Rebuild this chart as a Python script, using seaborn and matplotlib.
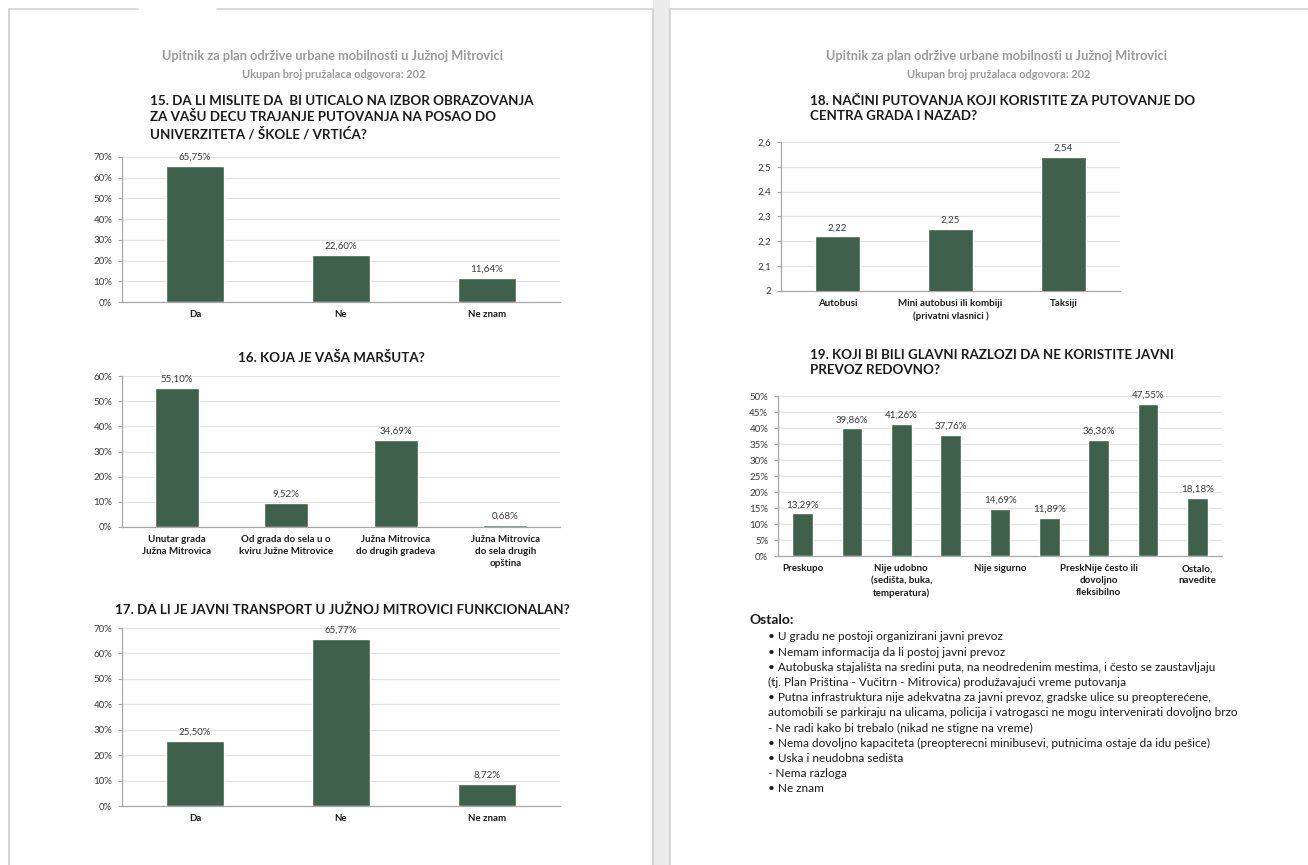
import matplotlib
matplotlib.use("Agg")
import matplotlib.pyplot as plt
from matplotlib.patches import Rectangle
from matplotlib.ticker import FixedLocator, FuncFormatter
import seaborn as sns
import pandas as pd
import numpy as np

sns.set_theme(style="white")
plt.rcParams["font.family"] = ["Lato", "DejaVu Sans"]

# ---- survey data -------------------------------------------------------
header_title = "Upitnik za plan održive urbane mobilnosti u Južnoj Mitrovici"
header_sub = "Ukupan broj pružalaca odgovora: 202"

q15_title = ("15. DA LI MISLITE DA  BI UTICALO NA IZBOR OBRAZOVANJA\n"
             "ZA VAŠU DECU TRAJANJE PUTOVANJA NA POSAO DO\n"
             "UNIVERZITETA / ŠKOLE / VRTIĆA?")
q15_cats = ["Da", "Ne", "Ne znam"]
q15_vals = [65.75, 22.60, 11.64]

q16_title = "16. KOJA JE VAŠA MARŠUTA?"
q16_cats = ["Unutar grada\nJužna Mitrovica",
            "Od grada do sela u o\nkviru Južne Mitrovice",
            "Južna Mitrovica\ndo drugih gradeva",
            "Južna Mitrovica\ndo sela drugih\nopština"]
q16_vals = [55.10, 9.52, 34.69, 0.68]

q17_title = "17. DA LI JE JAVNI TRANSPORT U JUŽNOJ MITROVICI FUNKCIONALAN?"
q17_cats = ["Da", "Ne", "Ne znam"]
q17_vals = [25.50, 65.77, 8.72]

q18_title = ("18. NAČINI PUTOVANJA KOJI KORISTITE ZA PUTOVANJE DO\n"
             "CENTRA GRADA I NAZAD?")
q18_cats = ["Autobusi", "Mini autobusi ili kombiji\n(privatni vlasnici )", "Taksiji"]
q18_vals = [2.22, 2.25, 2.54]

q19_title = ("19. KOJI BI BILI GLAVNI RAZLOZI DA NE KORISTITE JAVNI\n"
             "PREVOZ REDOVNO?")
q19_ticklabels = ["Preskupo", "", "Nije udobno\n(sedišta, buka,\ntemperatura)", "",
                  "Nije sigurno", "", "PreskNije često ili\ndovoljno\nfleksibilno", "",
                  "Ostalo,\nnavedite"]
q19_vals = [13.29, 39.86, 41.26, 37.76, 14.69, 11.89, 36.36, 47.55, 18.18]

other_heading = "Ostalo:"
other_items = [
    "• U gradu ne postoji organizirani javni prevoz",
    "• Nemam informacija da li postoj javni prevoz",
    "• Autobuska stajališta na sredini puta, na neodredenim mestima, i često se zaustavljaju",
    "(tj. Plan Priština - Vučitrn - Mitrovica) produžavajući vreme putovanja",
    "• Putna infrastruktura nije adekvatna za javni prevoz, gradske ulice su preopterećene,",
    "automobili se parkiraju na ulicama, policija i vatrogasci ne mogu intervenirati dovoljno brzo",
    "- Ne radi kako bi trebalo (nikad ne stigne na vreme)",
    "• Nema dovoljno kapaciteta (preopterecni minibusevi, putnicima ostaje da idu pešice)",
    "• Uska i neudobna sedišta",
    "- Nema razloga",
    "• Ne znam",
]

# ---- styling -----------------------------------------------------------
W, H = 1308, 865
BAR = "#3f604a"
AXIS = "#a8a8a8"
GRID = "#e2e2e2"
TXT = "#1a1a1a"
LBL = "#3a3a3a"
HDR = "#9a9a9a"

fig = plt.figure(figsize=(W / 100, H / 100), dpi=100, facecolor="white")

# background layer in pixel coordinates (pages, headers, titles, notes)
bg = fig.add_axes([0, 0, 1, 1], zorder=-5)
bg.set_xlim(0, W)
bg.set_ylim(H, 0)
bg.axis("off")

# gutter between the two pages
bg.add_patch(Rectangle((653, 0), 17, H, facecolor="#ececec", edgecolor="none"))
for x in (653, 670):
    bg.plot([x, x], [9, H], color="#cdcdcd", lw=1.2)
# page borders
bg.plot([9, 9], [9, H], color="#cdcdcd", lw=1.2)
bg.plot([9, 138], [9, 9], color="#d4d4d4", lw=1.2)
bg.plot([217, 653], [9, 9], color="#d4d4d4", lw=1.2)
bg.plot([670, W], [9, 9], color="#d4d4d4", lw=1.2)

# page headers
for cx in (332, 997):
    bg.text(cx, 56, header_title, ha="center", va="center", fontsize=9.2,
            fontweight="bold", color=HDR)
    bg.text(cx + 2, 75, header_sub, ha="center", va="center", fontsize=7.9,
            fontweight="bold", color=HDR)

# chart titles
title_kw = dict(fontsize=9.6, fontweight="bold", color=TXT, linespacing=1.3)
bg.text(150, 95, q15_title, ha="left", va="top", **title_kw)
bg.text(331, 357, q16_title, ha="center", va="center", **title_kw)
bg.text(342, 610, q17_title, ha="center", va="center", **title_kw)
bg.text(810, 95, q18_title, ha="left", va="top", **title_kw)
bg.text(810, 349, q19_title, ha="left", va="top", **title_kw)

# free-text answers
bg.text(750, 620, other_heading, ha="left", va="center", fontsize=10,
        fontweight="bold", color=TXT)
for i, line in enumerate(other_items):
    bg.text(768, 637 + i * 15.2, line, ha="left", va="center", fontsize=8.5,
            color=TXT)


def px_axes(left, top, right, bottom):
    return fig.add_axes([left / W, 1 - bottom / H, (right - left) / W, (bottom - top) / H])


def pct_tick(v, _):
    return f"{v:.0f}%"


def num_tick(v, _):
    return f"{v:g}".replace(".", ",")


def bar_chart(box, cats, vals, ymin, ymax, step, tick_fmt, val_fmt,
              ticklabels=None, width=0.4):
    ax = px_axes(*box)
    df = pd.DataFrame({"cat": list(range(len(vals))), "val": vals})
    sns.barplot(data=df, x="cat", y="val", color=BAR, saturation=1, width=width,
                ax=ax, zorder=3)
    ax.set_ylim(ymin, ymax)
    ax.set_xlim(-0.5, len(vals) - 0.5)
    ax.yaxis.set_major_locator(FixedLocator(np.arange(ymin, ymax + step / 2, step)))
    ax.yaxis.set_major_formatter(FuncFormatter(tick_fmt))
    ax.set_xticks(range(len(vals)))
    ax.set_xticklabels(ticklabels if ticklabels is not None else cats,
                       fontsize=7, fontweight="bold", color=TXT, linespacing=1.4)
    ax.set_xticks(np.arange(-0.5, len(vals), 1.0), minor=True)
    ax.tick_params(axis="x", which="major", length=0, pad=6)
    ax.tick_params(axis="x", which="minor", length=3, color=AXIS, width=0.8)
    ax.tick_params(axis="y", length=3, color=AXIS, width=0.8, labelsize=7,
                   labelcolor=LBL, pad=4, left=True)
    ax.set_xlabel("")
    ax.set_ylabel("")
    ax.yaxis.grid(True, color=GRID, lw=0.9)
    ax.xaxis.grid(False)
    ax.set_axisbelow(True)
    for side in ("top", "right"):
        ax.spines[side].set_visible(False)
    for side in ("left", "bottom"):
        ax.spines[side].set_color(AXIS)
        ax.spines[side].set_linewidth(0.9)
    ax.set_facecolor("none")
    ax.bar_label(ax.containers[0], labels=[val_fmt(v) for v in vals], padding=3,
                 fontsize=7, color=LBL)
    return ax


def pct_label(v):
    return f"{v:.2f}%".replace(".", ",")


def num_label(v):
    return f"{v:.2f}".replace(".", ",")


bar_chart((122, 157, 560, 302), q15_cats, q15_vals, 0, 70, 10, pct_tick, pct_label)
bar_chart((122, 376, 560, 527), q16_cats, q16_vals, 0, 60, 10, pct_tick, pct_label)
bar_chart((122, 628, 560, 806), q17_cats, q17_vals, 0, 70, 10, pct_tick, pct_label)
bar_chart((781, 142, 1120, 291), q18_cats, q18_vals, 2.0, 2.6, 0.1, num_tick, num_label)
bar_chart((778, 396, 1222, 556), None, q19_vals, 0, 50, 5, pct_tick, pct_label,
          ticklabels=q19_ticklabels, width=0.42)

fig.savefig("out.png", dpi=100, facecolor="white")
